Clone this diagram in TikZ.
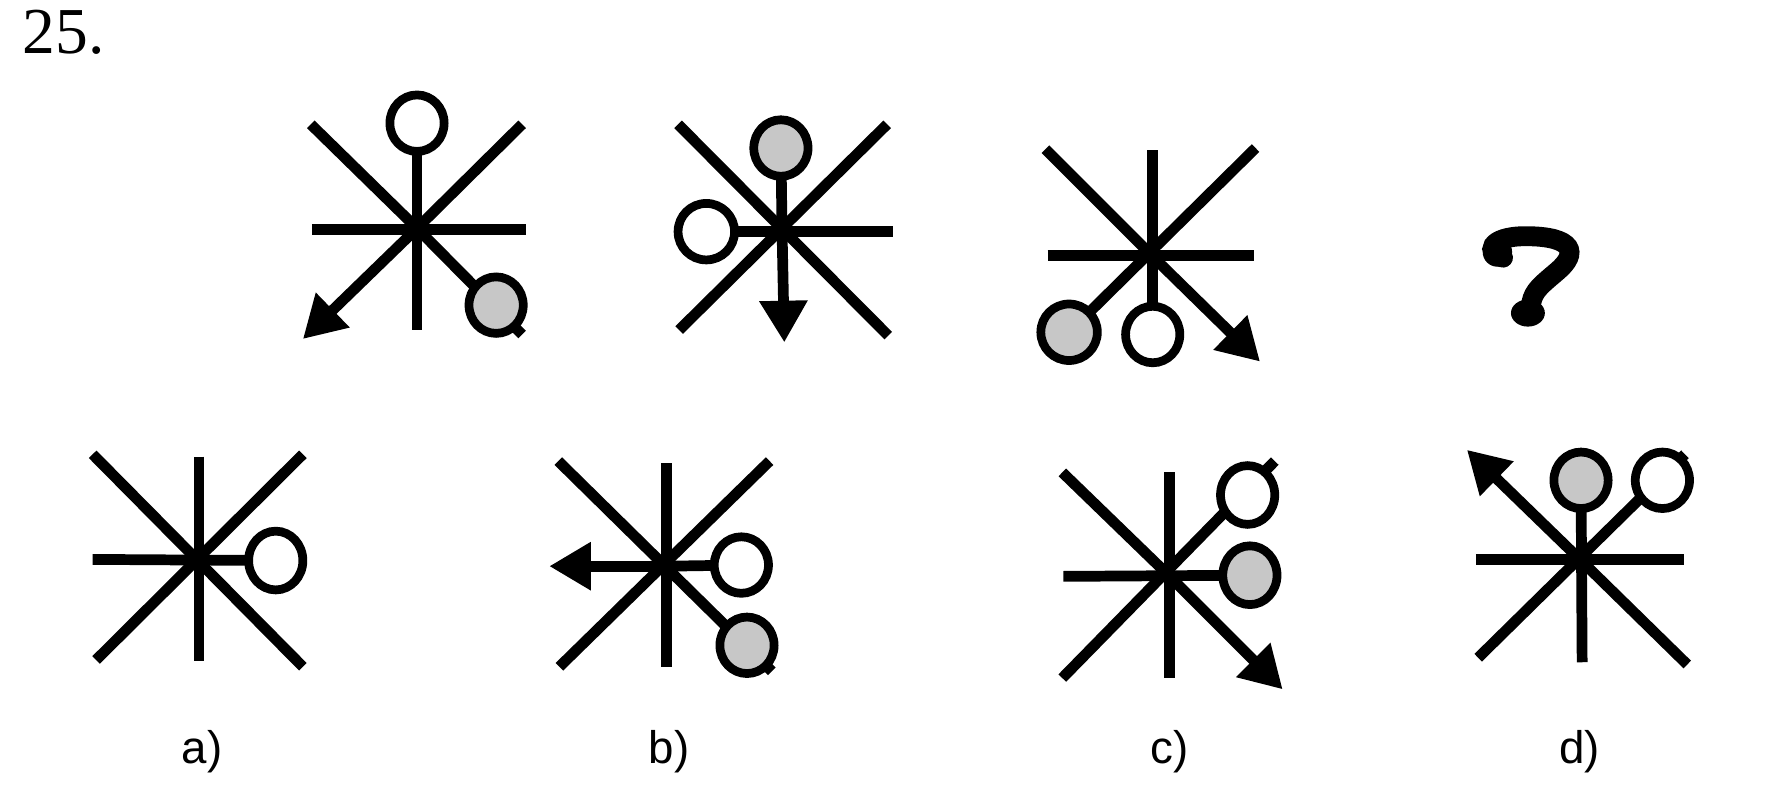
\documentclass[tikz,border=0pt]{standalone}
\usepackage{fontspec}
\newfontfamily\labfont{Liberation Sans}
\newfontfamily\numfont{Liberation Serif}
\usetikzlibrary{arrows.meta}
\begin{document}
\begin{tikzpicture}[x=0.02cm,y=-0.02cm,
  spoke/.style={line width=5.4pt},
  arr/.style={spoke,-{Triangle[length=21pt,width=23pt]}},
  ring/.style={line width=4.4pt,draw=black,fill=white},
  gring/.style={ring,fill=black!22},
  lab/.style={font=\labfont\fontsize{23}{23}\selectfont},
  qline/.style={line width=10pt,line cap=round}]
\useasboundingbox (0,0) rectangle (1568,717);
\node[anchor=base west,font=\numfont\fontsize{33}{33}\selectfont,inner sep=0pt] (num) at (20,47) {25.};

% ---------- figure 1 ----------
\coordinate (A) at (369,202);
\coordinate (Anw) at (275,110); \coordinate (Ane) at (462,110);
\coordinate (Aw) at (276,203); \coordinate (Ae) at (465,203);
\coordinate (As) at (369,292); \coordinate (Asw) at (268,300);
\coordinate (Acu) at (369,109); \coordinate (Acse) at (439,270); \coordinate (Atse) at (462,296);
\draw[spoke] (Anw) -- (A); \draw[spoke] (Ane) -- (A);
\draw[spoke] (Aw) -- (Ae); \draw[spoke] (A) -- (As);
\draw[arr] (A) -- (Asw);
\draw[spoke] (A) -- (Acu); \draw[spoke] (A) -- (Atse);
\draw[ring] (Acu) ellipse [x radius=24, y radius=25];
\draw[gring] (Acse) ellipse [x radius=24, y radius=25];

% ---------- figure 2 ----------
\coordinate (B) at (692,203);
\coordinate (Bnw) at (600,110); \coordinate (Bse) at (786,297);
\coordinate (Bne) at (785,110); \coordinate (Bsw) at (601,292);
\coordinate (Be) at (790,205); \coordinate (Bcw) at (625,205);
\coordinate (Bcu) at (691,131); \coordinate (Bs) at (694,303);
\draw[spoke] (Bnw) -- (Bse); \draw[spoke] (Bne) -- (Bsw);
\draw[spoke] (Bcw) -- (Be); \draw[spoke] (Bcu) -- (B);
\draw[arr] (B) -- (Bs);
\draw[ring] (Bcw) ellipse [x radius=25, y radius=25];
\draw[gring] (Bcu) ellipse [x radius=24, y radius=25];

% ---------- figure 3 ----------
\coordinate (C) at (1018,225);
\coordinate (Cnw) at (925,132); \coordinate (Cse) at (1115,320);
\coordinate (Cne) at (1111,131); \coordinate (Ccsw) at (946,294);
\coordinate (Cw) at (927,226); \coordinate (Ce) at (1110,226);
\coordinate (Cn) at (1020,133); \coordinate (Ccs) at (1020,296);
\draw[spoke] (Cnw) -- (C); \draw[arr] (C) -- (Cse);
\draw[spoke] (Cne) -- (Ccsw); \draw[spoke] (Cw) -- (Ce);
\draw[spoke] (Cn) -- (Ccs);
\draw[gring] (Ccsw) ellipse [x radius=25, y radius=25];
\draw[ring] (Ccs) ellipse [x radius=24, y radius=25];

% ---------- question mark ----------
\coordinate (Q) at (1353,246);
\draw[qline] (1330,228) .. controls (1314,224) and (1317,209) .. (1350,209)
  .. controls (1393,209) and (1397,224) .. (1378,240)
  .. controls (1364,252) and (1357,257) .. (1355,268);
\fill (1352,277) ellipse [x radius=15, y radius=12];
\fill (1325,223) circle [radius=13];

% ---------- answer a ----------
\coordinate (Da) at (177,495);
\coordinate (Danw) at (82,402); \coordinate (Dase) at (268,590);
\coordinate (Dane) at (268,402); \coordinate (Dasw) at (85,584);
\coordinate (Dan) at (176,404); \coordinate (Das) at (176,585);
\coordinate (Daw) at (82,495); \coordinate (Dace) at (244,496);
\draw[spoke] (Danw) -- (Dase); \draw[spoke] (Dane) -- (Dasw);
\draw[spoke] (Dan) -- (Das); \draw[spoke] (Daw) -- (Dace);
\draw[ring] (Dace) ellipse [x radius=24, y radius=26];
\node[lab] (la) at (179,665) {a)};

% ---------- answer b ----------
\coordinate (Db) at (590,501);
\coordinate (Dbnw) at (494,408); \coordinate (Dbcse) at (661,571); \coordinate (Dbtse) at (683,594);
\coordinate (Dbne) at (681,408); \coordinate (Dbsw) at (495,590);
\coordinate (Dbn) at (590,410); \coordinate (Dbs) at (590,590);
\coordinate (Dbw) at (486,501); \coordinate (Dbce) at (656,500);
\draw[spoke] (Dbnw) -- (Dbtse); \draw[spoke] (Dbne) -- (Dbsw);
\draw[spoke] (Dbn) -- (Dbs); \draw[spoke] (Db) -- (Dbce);
\draw[arr] (Db) -- (Dbw);
\draw[ring] (Dbce) ellipse [x radius=24, y radius=25];
\draw[gring] (Dbcse) ellipse [x radius=24, y radius=25];
\node[lab] (lb) at (592,665) {b)};

% ---------- answer c ----------
\coordinate (Dc) at (1035,510);
\coordinate (Dcnw) at (940,418); \coordinate (Dcse) at (1135,610);
\coordinate (Dccne) at (1104,438); \coordinate (Dctne) at (1128,408);
\coordinate (Dcsw) at (940,600);
\coordinate (Dcn) at (1035,418); \coordinate (Dcs) at (1035,600);
\coordinate (Dcw) at (941,510); \coordinate (Dcce) at (1106,509);
\draw[spoke] (Dcnw) -- (Dc); \draw[arr] (Dc) -- (Dcse);
\draw[spoke] (Dctne) -- (Dcsw);
\draw[spoke] (Dcn) -- (Dcs); \draw[spoke] (Dcw) -- (Dcce);
\draw[ring] (Dccne) ellipse [x radius=24, y radius=26];
\draw[gring] (Dcce) ellipse [x radius=24, y radius=26];
\node[lab] (lc) at (1035,665) {c)};

% ---------- answer d ----------
\coordinate (Dd) at (1398,495);
\coordinate (Ddnw) at (1298,398); \coordinate (Ddcne) at (1471,425); \coordinate (Ddtne) at (1491,402);
\coordinate (Ddse) at (1493,588); \coordinate (Ddsw) at (1308,582);
\coordinate (Ddcn) at (1399,425); \coordinate (Dds) at (1400,586);
\coordinate (Ddw) at (1306,495); \coordinate (Dde) at (1490,495);
\draw[arr] (Dd) -- (Ddnw);
\draw[spoke] (Ddsw) -- (Ddtne);
\draw[spoke] (Dd) -- (Ddse);
\draw[spoke] (Ddcn) -- (Dds); \draw[spoke] (Ddw) -- (Dde);
\draw[gring] (Ddcn) ellipse [x radius=24, y radius=25];
\draw[ring] (Ddcne) ellipse [x radius=24, y radius=25];
\node[lab] (ld) at (1398,665) {d)};
\end{tikzpicture}
\end{document}
